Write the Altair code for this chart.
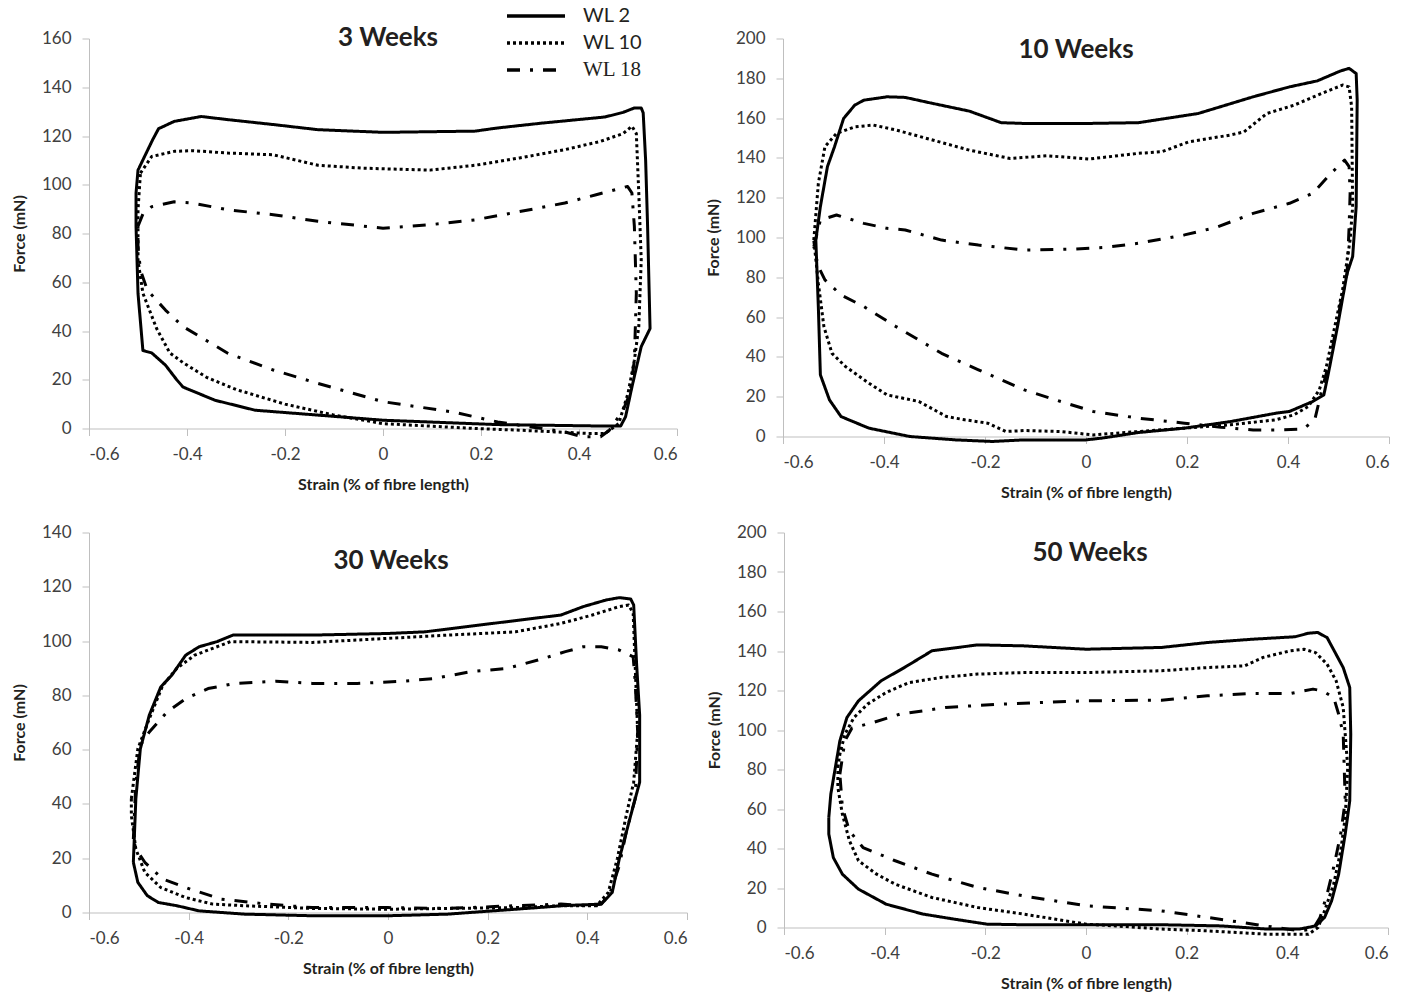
import altair as alt
import pandas as pd

SERIES = ["WL 2", "WL 10", "WL 18"]
DASHES = [[1, 0], [3, 3], [13, 10, 3, 10]]
X_TICKS = [-0.6, -0.4, -0.2, 0, 0.2, 0.4, 0.6]
TITLES = ["3 Weeks", "10 Weeks", "30 Weeks", "50 Weeks"]
Y_MAX = [160, 200, 140, 200]

# ---------------- 3 Weeks ----------------
W3_WL2_X = [-0.504, -0.500, -0.470, -0.458, -0.426, -0.371, -0.316, -0.224, -0.133, 0.000, 0.188, 0.234, 0.325, 0.453, 0.490, 0.513, 0.527, 0.531, 0.536, 0.540, 0.545, 0.527, 0.508, 0.495, 0.485, 0.453, 0.234, 0.000, -0.133, -0.261, -0.343, -0.408, -0.421, -0.444, -0.472, -0.490, -0.500, -0.504, -0.504]
W3_WL2_Y = [96.6, 106, 118.5, 123, 126, 128, 126.7, 124.7, 122.6, 121.5, 122, 123.3, 125.3, 127.8, 129.7, 131.5, 131.5, 129.5, 110, 82.9, 41, 33.6, 17, 4.8, 1, 1, 1.6, 3.4, 5.5, 7.5, 11.6, 17, 20, 26, 31, 32, 55.5, 83, 96.6]
W3_WL10_X = [-0.495, -0.472, -0.426, -0.389, -0.316, -0.224, -0.133, -0.041, 0.096, 0.188, 0.279, 0.371, 0.444, 0.490, 0.508, 0.517, 0.522, 0.527, 0.522, 0.513, 0.500, 0.481, 0.453, 0.417, 0.279, 0.188, 0.000, -0.100, -0.200, -0.300, -0.360, -0.408, -0.435, -0.462, -0.490, -0.500, -0.500, -0.495]
W3_WL10_Y = [104.8, 111.6, 113.7, 114, 113, 112.3, 108, 106.8, 106, 108, 111, 114.4, 117.8, 121, 124, 121, 96.6, 69, 41.8, 28, 14.4, 2, -2, -2, -0.7, 0, 2, 5.5, 10, 16, 21, 27, 31, 41, 55.5, 69, 89.7, 104.8]
W3_WL18_X = [-0.500, -0.490, -0.472, -0.426, -0.389, -0.316, -0.224, -0.133, 0.000, 0.096, 0.188, 0.279, 0.371, 0.435, 0.499, 0.508, 0.513, 0.517, 0.513, 0.504, 0.490, 0.462, 0.444, 0.407, 0.371, 0.234, 0.142, 0.000, -0.133, -0.224, -0.316, -0.408, -0.444, -0.481, -0.495, -0.500, -0.500]
W3_WL18_Y = [83, 88, 91, 93, 92.5, 89.7, 87.7, 85, 82.2, 83.6, 85.6, 89, 92.5, 95.9, 99.3, 96.6, 82.9, 55.5, 28, 14.4, 7.5, -0.7, -3.4, -3.4, -1.4, 2.7, 6.8, 11, 18.5, 24, 30.8, 41.8, 48.6, 56.8, 65, 74.7, 83]

# ---------------- 10 Weeks ----------------
W10_WL2_X = [-0.535, -0.526, -0.512, -0.498, -0.480, -0.458, -0.440, -0.394, -0.358, -0.304, -0.231, -0.168, -0.122, 0.000, 0.104, 0.222, 0.331, 0.403, 0.458, 0.503, 0.521, 0.535, 0.537, 0.535, 0.528, 0.517, 0.498, 0.480, 0.471, 0.449, 0.403, 0.376, 0.286, 0.195, 0.104, 0.032, 0.000, -0.122, -0.186, -0.258, -0.349, -0.430, -0.485, -0.508, -0.526, -0.530, -0.535]
W10_WL2_Y = [98.7, 115.5, 135.6, 145.6, 159.8, 166.5, 169, 170.7, 170.4, 167.4, 163.5, 157.7, 157.3, 157.3, 157.7, 162.3, 170.7, 175.7, 178.7, 183.6, 185, 182.4, 169, 115.5, 90.4, 82, 55.2, 31.8, 20.9, 17.6, 12.6, 11.7, 7.5, 4.2, 2, -0.8, -1.7, -1.7, -2.5, -1.7, 0, 4.2, 10, 18.4, 31, 65, 98.7]
W10_WL10_X = [-0.539, -0.530, -0.517, -0.494, -0.458, -0.421, -0.376, -0.304, -0.231, -0.150, -0.077, 0.005, 0.104, 0.150, 0.204, 0.286, 0.313, 0.358, 0.412, 0.467, 0.508, 0.521, 0.526, 0.528, 0.523, 0.508, 0.494, 0.476, 0.462, 0.440, 0.412, 0.376, 0.286, 0.195, 0.104, 0.014, -0.050, -0.122, -0.159, -0.195, -0.240, -0.276, -0.331, -0.394, -0.430, -0.476, -0.503, -0.519, -0.530, -0.539]
W10_WL10_Y = [98.7, 127.2, 145.6, 152.3, 155.6, 156.5, 154, 149, 143.9, 139.7, 141.1, 139.4, 142.3, 143.1, 148.1, 151.5, 153.1, 162.3, 166.5, 172.4, 176.6, 175.7, 165.7, 115.5, 98.7, 73.6, 56.9, 35.1, 23.4, 15, 10.9, 8.4, 5.9, 4.2, 2.5, 0.8, 2.5, 3, 2.5, 6.7, 8.4, 10, 17.6, 20.9, 26.8, 35.1, 41.8, 55.2, 77, 98.7]
W10_WL18_X = [-0.539, -0.526, -0.494, -0.440, -0.394, -0.358, -0.286, -0.213, -0.122, -0.032, 0.041, 0.104, 0.195, 0.258, 0.331, 0.403, 0.449, 0.485, 0.512, 0.521, 0.523, 0.521, 0.517, 0.503, 0.485, 0.467, 0.453, 0.430, 0.385, 0.331, 0.267, 0.195, 0.104, 0.014, -0.050, -0.122, -0.213, -0.286, -0.376, -0.440, -0.485, -0.517, -0.530, -0.539]
W10_WL18_Y = [95.4, 108.8, 111.3, 107.1, 104.6, 103.8, 98.7, 96.2, 93.7, 94.1, 95.1, 97.1, 101.3, 105.1, 112.1, 117.2, 122.2, 132.2, 138.9, 135.6, 122.2, 105.4, 82, 65.3, 40.2, 23.4, 8.4, 3.7, 3.3, 3.3, 4.7, 6.7, 9.2, 12.6, 17.6, 23.4, 33.5, 41.8, 55.2, 65.3, 71.1, 78.7, 85.4, 95.4]

# ---------------- 30 Weeks ----------------
W30_WL2_X = [-0.511, -0.506, -0.497, -0.479, -0.456, -0.434, -0.406, -0.379, -0.343, -0.311, -0.152, 0.000, 0.074, 0.210, 0.347, 0.392, 0.437, 0.464, 0.487, 0.493, 0.499, 0.505, 0.505, 0.487, 0.464, 0.450, 0.428, 0.347, 0.301, 0.210, 0.120, 0.000, -0.152, -0.288, -0.379, -0.424, -0.461, -0.483, -0.502, -0.511]
W30_WL2_Y = [18.5, 41.9, 60.3, 72.7, 83.1, 87.4, 94.8, 97.9, 99.8, 102.2, 102.2, 102.8, 103.4, 106.5, 109.6, 112.7, 115.1, 116, 115.5, 113.3, 91.1, 72.7, 48, 35.7, 19.7, 7.4, 3.1, 2.5, 1.8, 0.6, -0.6, -1.2, -1.2, -0.6, 0.6, 2.5, 3.7, 6.2, 11.1, 18.5]
W30_WL10_X = [-0.515, -0.502, -0.479, -0.452, -0.424, -0.388, -0.352, -0.316, -0.152, 0.000, 0.120, 0.256, 0.347, 0.410, 0.464, 0.483, 0.492, 0.496, 0.501, 0.493, 0.478, 0.460, 0.442, 0.419, 0.347, 0.256, 0.120, 0.000, -0.152, -0.288, -0.352, -0.406, -0.456, -0.488, -0.506, -0.515, -0.515]
W30_WL10_Y = [41.9, 60.3, 71.4, 83.7, 89.9, 94.8, 97.3, 99.8, 99.5, 101, 102.2, 103.4, 106.5, 109.6, 112.7, 113.3, 110.2, 91.1, 66.5, 48, 35.7, 19.7, 7.4, 2.5, 2.5, 1.8, 1.5, 1.2, 1.5, 2.5, 3.1, 5.5, 9.2, 14.8, 23.4, 35.7, 41.9]
W30_WL18_X = [-0.511, -0.506, -0.497, -0.479, -0.443, -0.406, -0.361, -0.307, -0.225, -0.152, -0.062, 0.029, 0.093, 0.165, 0.238, 0.301, 0.356, 0.392, 0.428, 0.464, 0.492, 0.496, 0.501, 0.496, 0.478, 0.464, 0.446, 0.428, 0.401, 0.347, 0.256, 0.120, 0.000, -0.152, -0.243, -0.334, -0.397, -0.452, -0.488, -0.506, -0.511]
W30_WL18_Y = [27.1, 48, 61.6, 66.5, 73.9, 78.8, 82.5, 84.4, 85.2, 84.4, 84.4, 85.2, 86.2, 88.7, 89.9, 93, 96.1, 97.9, 97.9, 96.7, 94.2, 85, 66.5, 41.9, 29.6, 17.2, 7.4, 3.1, 2.5, 3.1, 2.5, 1.5, 1.8, 1.8, 3.1, 4.9, 8.6, 12.3, 18.5, 23.4, 27.1]

# ---------------- 50 Weeks ----------------
W50_WL2_X = [-0.511, -0.507, -0.498, -0.489, -0.475, -0.452, -0.407, -0.361, -0.306, -0.215, -0.124, 0.000, 0.150, 0.241, 0.333, 0.415, 0.442, 0.460, 0.479, 0.511, 0.524, 0.526, 0.524, 0.515, 0.502, 0.488, 0.474, 0.456, 0.424, 0.360, 0.269, 0.150, 0.000, -0.124, -0.197, -0.261, -0.324, -0.397, -0.452, -0.484, -0.502, -0.511, -0.511]
W50_WL2_Y = [55.7, 67.5, 81, 94.5, 106.3, 114.8, 124.9, 131.6, 140.1, 143.1, 142.6, 140.9, 141.8, 144.3, 146, 147.2, 149, 149.4, 146.8, 131.6, 121.5, 97.9, 64.1, 47.3, 27, 13.5, 5.1, 0.8, -0.8, -0.8, 0.8, 1.4, 1.4, 1.4, 1.7, 4.2, 6.8, 11.8, 19.4, 27, 35.4, 47.3, 55.7]
W50_WL10_X = [-0.493, -0.489, -0.479, -0.461, -0.434, -0.397, -0.352, -0.288, -0.215, -0.124, 0.000, 0.150, 0.241, 0.315, 0.351, 0.406, 0.433, 0.456, 0.479, 0.497, 0.511, 0.520, 0.515, 0.506, 0.492, 0.474, 0.461, 0.442, 0.360, 0.241, 0.150, 0.059, 0.000, -0.124, -0.215, -0.306, -0.379, -0.416, -0.452, -0.470, -0.484, -0.493, -0.493]
W50_WL10_Y = [81, 87.8, 97.9, 106.3, 113.1, 119, 124, 126.6, 128.3, 129.1, 129.1, 130, 131.6, 132.5, 136.7, 140.1, 140.9, 139.2, 133.3, 124.9, 111.4, 81, 55.7, 38.8, 21.9, 8.4, 0, -3.4, -3.4, -1.7, -0.8, 0.8, 1.7, 6.8, 10.1, 15.2, 21.9, 27, 33.8, 43.9, 57.4, 70.9, 81]
W50_WL18_X = [-0.489, -0.479, -0.465, -0.420, -0.370, -0.279, -0.169, 0.000, 0.150, 0.241, 0.333, 0.406, 0.451, 0.470, 0.492, 0.502, 0.511, 0.515, 0.506, 0.492, 0.479, 0.465, 0.451, 0.424, 0.378, 0.333, 0.241, 0.150, 0.000, -0.124, -0.215, -0.306, -0.379, -0.443, -0.470, -0.484, -0.489]
W50_WL18_Y = [77.6, 94.5, 101, 104, 108, 111.4, 113.1, 114.8, 115.1, 117.3, 118.5, 118.5, 120.7, 119.8, 116.5, 108, 97.9, 64.1, 47.3, 30.4, 16.9, 5.1, -0.8, -1.7, 0, 1.7, 5.1, 8.4, 11, 16, 20.3, 27, 33.8, 40.5, 48.9, 60.8, 77.6]

PANELS = [
    [(W3_WL2_X, W3_WL2_Y), (W3_WL10_X, W3_WL10_Y), (W3_WL18_X, W3_WL18_Y)],
    [(W10_WL2_X, W10_WL2_Y), (W10_WL10_X, W10_WL10_Y), (W10_WL18_X, W10_WL18_Y)],
    [(W30_WL2_X, W30_WL2_Y), (W30_WL10_X, W30_WL10_Y), (W30_WL18_X, W30_WL18_Y)],
    [(W50_WL2_X, W50_WL2_Y), (W50_WL10_X, W50_WL10_Y), (W50_WL18_X, W50_WL18_Y)],
]

# layout (plot-area sizes and title placement)
SIZES = [(588, 390), (606, 398), (598, 380), (604, 395)]
TITLE_DX = [5, -10, 3, 4]
TITLE_OFFSET = [-42.5, -54.5, -71.5, -63.5]

LEGEND = alt.Legend(
    title=None,
    orient="none",
    legendX=435,
    legendY=-34.5,
    symbolType="M-2.9,0H2.9",
    symbolSize=400,
    symbolStrokeWidth=3.5,
    symbolStrokeColor="black",
    labelFont={"expr": "datum.label == 'WL 18' ? 'Liberation Serif' : 'Lato'"},
    labelFontSize={"expr": "datum.label == 'WL 18' ? 21 : 20"},
    labelColor="#231f20",
    labelOffset=35,
    rowPadding=5,
)


def make_panel(k):
    rows = []
    for name, (xs, ys) in zip(SERIES, PANELS[k]):
        for i, (xv, yv) in enumerate(zip(xs, ys)):
            rows.append({"strain": xv, "force": yv, "series": name, "i": i})
    df = pd.DataFrame(rows)
    ymax = Y_MAX[k]
    w, h = SIZES[k]
    return alt.Chart(df).mark_line(
        color="black", strokeWidth=3, strokeJoin="round"
    ).encode(
        x=alt.X(
            "strain:Q",
            scale=alt.Scale(domain=[-0.6, 0.6], nice=False, zero=False),
            axis=alt.Axis(values=X_TICKS, labelExpr="'' + datum.value",
                          title="Strain (% of fibre length)"),
        ),
        y=alt.Y(
            "force:Q",
            scale=alt.Scale(domain=[0, ymax], nice=False, zero=False),
            axis=alt.Axis(values=list(range(0, ymax + 1, 20)), title="Force (mN)"),
        ),
        strokeDash=alt.StrokeDash(
            "series:N",
            scale=alt.Scale(domain=SERIES, range=DASHES),
            legend=LEGEND,
        ),
        order=alt.Order("i:Q"),
    ).properties(
        width=w,
        height=h,
        title=alt.Title(
            TITLES[k], frame="group", anchor="middle", orient="top",
            offset=TITLE_OFFSET[k], dx=TITLE_DX[k], baseline="alphabetic",
            font="Lato", fontSize=26, fontWeight="bold", color="#231f20",
        ),
    )


p1, p2, p3, p4 = [make_panel(k) for k in range(4)]

row1 = alt.concat(p1, p2, columns=2, align="none", spacing=27)
row2 = alt.concat(p3, p4, columns=2, align="none", spacing=18)

chart = alt.concat(row1, row2, columns=1, align="none", spacing=23).properties(
    autosize=alt.AutoSizeParams(type="none"),
    padding={"left": 89, "top": 38.5, "right": 1332, "bottom": 964.5},
    background="white",
).configure_view(stroke=None).configure_axis(
    grid=False,
    domainColor="#bfbfbf",
    tickColor="#bfbfbf",
    tickSize=7,
    labelFont="Lato",
    labelFontSize=17,
    labelColor="#404040",
    labelPadding=11,
    titleFont="Lato",
    titleFontSize=16,
    titleFontWeight="bold",
    titleColor="#231f20",
    titlePadding=14,
)

chart.save("out.html", embed_options={"renderer": "svg", "actions": False})
